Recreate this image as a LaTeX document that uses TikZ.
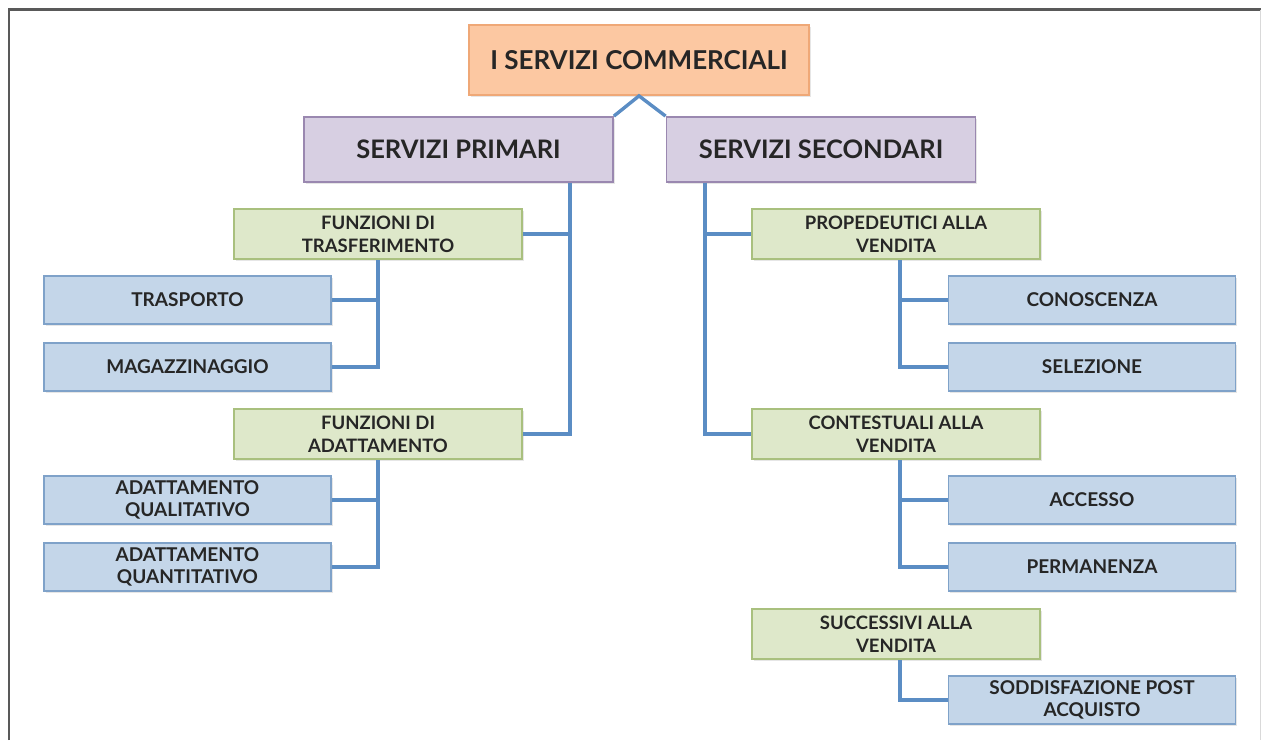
\documentclass[tikz,border=0pt]{standalone}
\usepackage{fontspec}
\setmainfont{Lato}
\usetikzlibrary{shadows}

\definecolor{rootfill}{HTML}{FCC8A2}
\definecolor{rootline}{HTML}{EFA877}
\definecolor{mainfill}{HTML}{D7CFE2}
\definecolor{mainline}{HTML}{9A88B0}
\definecolor{subfill}{HTML}{DEE8CA}
\definecolor{subline}{HTML}{A9C07E}
\definecolor{leaffill}{HTML}{C4D6E9}
\definecolor{leafline}{HTML}{7FA2C9}
\definecolor{linkblue}{HTML}{5B8DC4}

\tikzset{
	box/.style={draw, line width=1.8pt, align=center, text=black!85, inner sep=2pt,
		drop shadow={opacity=0.2, shadow xshift=1.5pt, shadow yshift=-2pt}},
	rootbox/.style={box, fill=rootfill, draw=rootline, minimum width=340pt, minimum height=70pt,
		font=\fontsize{26}{30}\selectfont\bfseries},
	mainbox/.style={box, fill=mainfill, draw=mainline, minimum width=309pt, minimum height=65pt,
		font=\fontsize{25.5}{29}\selectfont\bfseries},
	subbox/.style={box, fill=subfill, draw=subline, minimum width=288pt, minimum height=50pt,
		font=\fontsize{18.5}{23}\selectfont\bfseries},
	leafbox/.style={box, fill=leaffill, draw=leafline, minimum width=287pt, minimum height=48pt,
		font=\fontsize{19}{22}\selectfont\bfseries},
	link/.style={draw=linkblue, line width=3.4pt}
}

\begin{document}
\begin{tikzpicture}[x=1pt,y=-1pt]
	\useasboundingbox (0,0) rectangle (1262,740);

	% cornice
	\draw[black!65, line width=2.5pt] (9,740) -- (9,9.5) -- (1261,9.5);
	\draw[black!15, line width=1pt] (1260,9.5) -- (1260,740);

	% livelli alti
	\node[rootbox] (servizi) at (639,60) {I SERVIZI COMMERCIALI};
	\node[mainbox] (primari) at (458.5,149.5) {SERVIZI PRIMARI};
	\node[mainbox] (secondari) at (821,149.5) {SERVIZI SECONDARI};

	% servizi primari
	\node[subbox] (trasf) at (378,234) {FUNZIONI DI\\TRASFERIMENTO};
	\node[subbox] (adatt) at (378,434) {FUNZIONI DI\\ADATTAMENTO};
	\node[leafbox] (trasporto) at (187.5,300) {TRASPORTO};
	\node[leafbox] (magazz) at (187.5,367) {MAGAZZINAGGIO};
	\node[leafbox] (qualit) at (187.5,500) {ADATTAMENTO\\QUALITATIVO};
	\node[leafbox] (quantit) at (187.5,567) {ADATTAMENTO\\QUANTITATIVO};

	% servizi secondari
	\node[subbox] (proped) at (896,234) {PROPEDEUTICI ALLA\\VENDITA};
	\node[subbox] (contest) at (896,434) {CONTESTUALI ALLA\\VENDITA};
	\node[subbox] (succ) at (896,634) {SUCCESSIVI ALLA\\VENDITA};
	\node[leafbox] (conosc) at (1092,300) {CONOSCENZA};
	\node[leafbox] (selez) at (1092,367) {SELEZIONE};
	\node[leafbox] (accesso) at (1092,500) {ACCESSO};
	\node[leafbox] (perman) at (1092,567) {PERMANENZA};
	\node[leafbox] (soddisf) at (1092,700) {SODDISFAZIONE POST\\ACQUISTO};

	% colonne dei collegamenti
	\coordinate (pbus) at (570,0);
	\coordinate (sbus) at (705,0);
	\coordinate (sleaf) at (900,0);

	% collegamenti
	\draw[link] (primari.north east) -- (servizi.south) -- (secondari.north west);

	\draw[link] (primari.south -| pbus) |- (adatt.east);
	\draw[link] (trasf.east) -- (trasf.east -| pbus);
	\draw[link] (secondari.south -| sbus) |- (contest.west);
	\draw[link] (proped.west) -- (proped.west -| sbus);

	\draw[link] (trasf.south) |- (magazz.east);
	\draw[link] (trasporto.east) -- (trasporto.east -| trasf.south);
	\draw[link] (adatt.south) |- (quantit.east);
	\draw[link] (qualit.east) -- (qualit.east -| adatt.south);

	\draw[link] (proped.south -| sleaf) |- (selez.west);
	\draw[link] (conosc.west) -- (conosc.west -| sleaf);
	\draw[link] (contest.south -| sleaf) |- (perman.west);
	\draw[link] (accesso.west) -- (accesso.west -| sleaf);
	\draw[link] (succ.south -| sleaf) |- (soddisf.west);
\end{tikzpicture}
\end{document}
